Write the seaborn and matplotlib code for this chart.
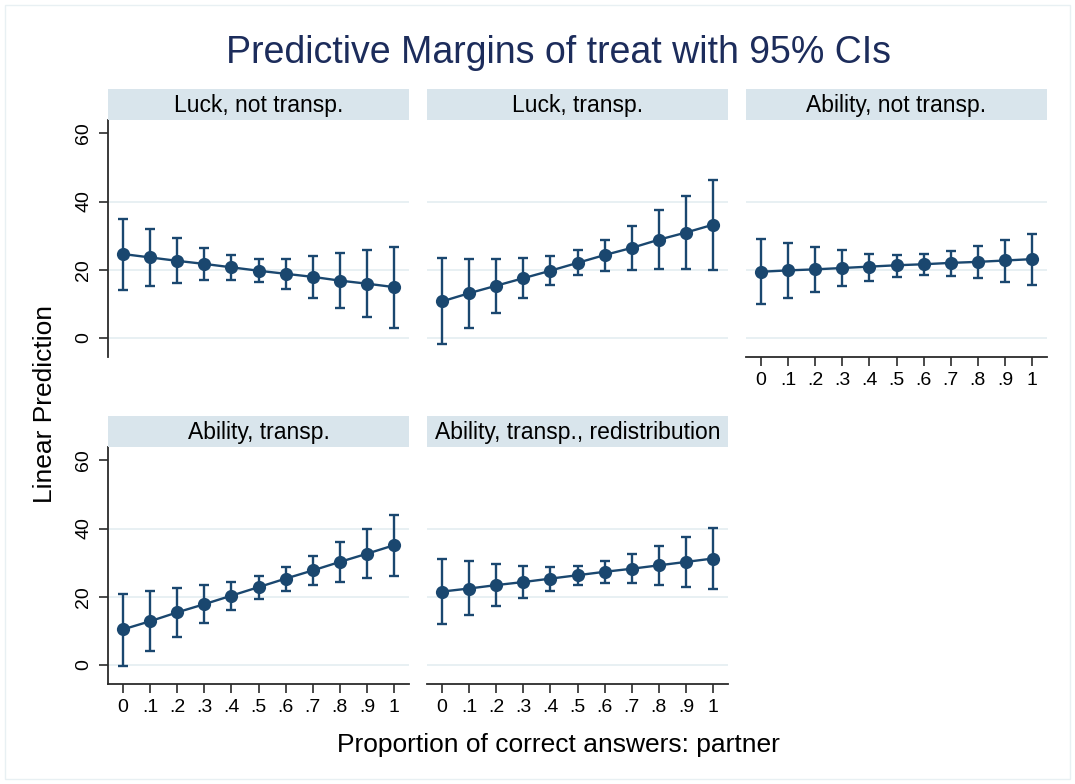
import numpy as np
import pandas as pd
import matplotlib
matplotlib.use("Agg")
import matplotlib.pyplot as plt
import matplotlib.patches as patches
import seaborn as sns

# ---------------- data ----------------
x_vals = [0, 0.1, 0.2, 0.3, 0.4, 0.5, 0.6, 0.7, 0.8, 0.9, 1.0]
x_labels = ["0", ".1", ".2", ".3", ".4", ".5", ".6", ".7", ".8", ".9", "1"]
y_ticks = [0, 20, 40, 60]

panel_titles = ["Luck, not transp.", "Luck, transp.", "Ability, not transp.",
                "Ability, transp.", "Ability, transp., redistribution"]

luck_not_mid = [24.6, 23.6, 22.6, 21.7, 20.7, 19.7, 18.8, 17.9, 16.8, 15.9, 14.9]
luck_not_hi = [34.8, 32.0, 29.2, 26.4, 24.2, 23.1, 23.1, 23.9, 24.8, 25.9, 26.8]
luck_not_lo = [14.1, 15.3, 16.2, 17.0, 17.1, 16.4, 14.3, 11.7, 8.9, 6.0, 3.0]

luck_tr_mid = [10.7, 13.1, 15.3, 17.5, 19.7, 22.0, 24.3, 26.4, 28.8, 30.9, 33.2]
luck_tr_hi = [23.3, 23.2, 23.2, 23.4, 24.0, 25.7, 28.8, 32.9, 37.4, 41.7, 46.2]
luck_tr_lo = [-1.7, 2.8, 7.4, 11.7, 15.5, 18.4, 19.5, 20.0, 20.2, 20.2, 20.0]

abil_not_mid = [19.4, 19.8, 20.1, 20.5, 20.9, 21.3, 21.6, 22.0, 22.3, 22.7, 23.1]
abil_not_hi = [29.0, 27.7, 26.6, 25.7, 24.7, 24.3, 24.5, 25.6, 27.0, 28.8, 30.6]
abil_not_lo = [9.8, 11.6, 13.5, 15.3, 16.8, 18.0, 18.4, 18.2, 17.5, 16.4, 15.5]

abil_tr_mid = [10.4, 12.8, 15.4, 17.8, 20.3, 22.8, 25.3, 27.7, 30.2, 32.6, 35.1]
abil_tr_hi = [20.9, 21.7, 22.5, 23.3, 24.4, 26.1, 28.6, 32.0, 35.9, 40.0, 44.1]
abil_tr_lo = [-0.3, 4.0, 8.1, 12.3, 16.0, 19.4, 21.8, 23.4, 24.4, 25.4, 26.2]

abil_red_mid = [21.5, 22.4, 23.4, 24.3, 25.3, 26.3, 27.3, 28.2, 29.2, 30.2, 31.2]
abil_red_hi = [31.2, 30.4, 29.6, 29.1, 28.8, 29.1, 30.5, 32.5, 34.9, 37.5, 40.2]
abil_red_lo = [11.9, 14.5, 17.2, 19.6, 21.8, 23.5, 24.1, 23.9, 23.5, 22.9, 22.2]

series = [
    (luck_not_mid, luck_not_lo, luck_not_hi),
    (luck_tr_mid, luck_tr_lo, luck_tr_hi),
    (abil_not_mid, abil_not_lo, abil_not_hi),
    (abil_tr_mid, abil_tr_lo, abil_tr_hi),
    (abil_red_mid, abil_red_lo, abil_red_hi),
]

# ---------------- style ----------------
sns.set_theme(style="white")
plt.rcParams["font.family"] = ["Liberation Sans", "DejaVu Sans"]

NAVY = "#1a476f"
TITLE_C = "#1c2c5b"
STRIP_C = "#d9e5ec"
GRID_C = "#e6eff2"
AXIS_C = "#2b2b2b"

W, H = 1075, 784
fig = plt.figure(figsize=(W / 100, H / 100), dpi=100)
fig.patch.set_facecolor("white")

# faint outer frame like Stata's graph region
fig.add_artist(patches.Rectangle((5 / W, 5 / H), 1 - 10 / W, 1 - 10 / H,
                                 transform=fig.transFigure, fill=False,
                                 edgecolor="#e8f0f3", lw=1.0))

col_left = [108, 427, 746]
panel_w = 301
row_top = [120, 447]      # pixel top of plot area
panel_h = 237
strip_h = 31

layout = [(0, 0), (0, 1), (0, 2), (1, 0), (1, 1)]
has_x = [False, False, True, True, True]
has_y = [True, False, False, True, False]

for i, ((r, c), (mid, lo, hi)) in enumerate(zip(layout, series)):
    left = col_left[c] / W
    bottom = 1 - (row_top[r] + panel_h) / H
    ax = fig.add_axes([left, bottom, panel_w / W, panel_h / H])
    ax.set_facecolor("white")

    mid_a = np.array(mid)
    lo_a = np.array(lo)
    hi_a = np.array(hi)
    ax.errorbar(x_vals, mid_a, yerr=[mid_a - lo_a, hi_a - mid_a], fmt="none",
                ecolor=NAVY, elinewidth=1.7, capsize=3.8, capthick=1.7, zorder=2)
    df = pd.DataFrame({"x": x_vals, "y": mid})
    sns.lineplot(data=df, x="x", y="y", ax=ax, color=NAVY, marker="o",
                 markersize=9.5, markeredgewidth=0, linewidth=1.7, zorder=3)

    ax.set_xlim(-0.055, 1.055)
    ax.set_ylim(-5.6, 63.9)
    ax.set_xlabel("")
    ax.set_ylabel("")
    ax.set_yticks(y_ticks)
    ax.set_xticks(x_vals)
    ax.set_xticklabels(x_labels)
    ax.grid(axis="y", color=GRID_C, lw=1.3)
    ax.grid(axis="x", visible=False)
    ax.get_ygridlines()[-1].set_visible(False)
    ax.set_axisbelow(True)

    for s in ["top", "right"]:
        ax.spines[s].set_visible(False)
    ax.spines["left"].set_visible(has_y[i])
    ax.spines["bottom"].set_visible(has_x[i])
    for s in ["left", "bottom"]:
        ax.spines[s].set_color(AXIS_C)
        ax.spines[s].set_linewidth(1.3)

    ax.tick_params(axis="y", left=has_y[i], labelleft=has_y[i], length=6.5,
                   width=1.2, color=AXIS_C, pad=5, labelsize=14, labelcolor="black")
    ax.tick_params(axis="x", bottom=has_x[i], labelbottom=has_x[i], length=6.5,
                   width=1.2, color=AXIS_C, pad=4, labelsize=14, labelcolor="black")
    for lab in ax.get_yticklabels():
        lab.set_rotation(90)
        lab.set_va("center")

    # strip on top
    sax = fig.add_axes([left, 1 - row_top[r] / H, panel_w / W, strip_h / H])
    sax.set_facecolor(STRIP_C)
    sax.set_xticks([])
    sax.set_yticks([])
    for s in sax.spines.values():
        s.set_visible(False)
    sax.text(0.5, 0.47, panel_titles[i], ha="center", va="center",
             fontsize=16.5, color="black", transform=sax.transAxes)

fig.text(558 / W, 1 - 53 / H, "Predictive Margins of treat with 95% CIs",
         ha="center", va="center", fontsize=27, color=TITLE_C)
fig.text(45 / W, 1 - 404 / H, "Linear Prediction", rotation=90,
         ha="center", va="center", fontsize=19, color="black")
fig.text(558 / W, 1 - 745 / H, "Proportion of correct answers: partner",
         ha="center", va="center", fontsize=19, color="black")

fig.savefig("out.png", dpi=100, facecolor="white")
